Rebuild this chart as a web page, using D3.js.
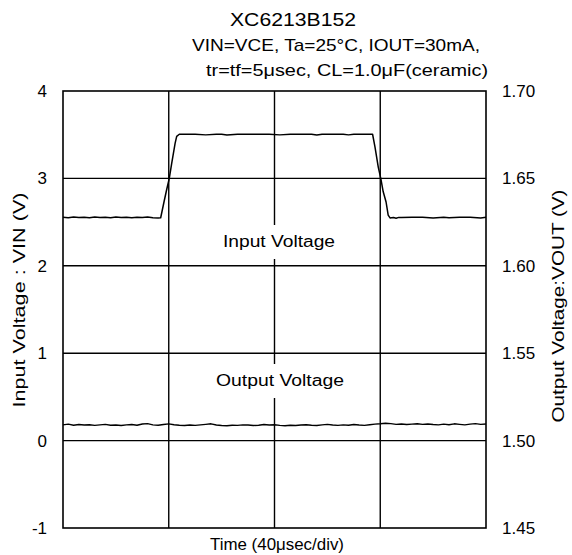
<!DOCTYPE html>
<html>
<head>
<meta charset="utf-8">
<script src="https://cdn.jsdelivr.net/npm/d3@7"></script>
<style>
  html, body { margin: 0; padding: 0; background: #fff; }
  svg text { font-family: "Liberation Sans", Arial, sans-serif; fill: #000; }
</style>
</head>
<body>
<svg id="chart" width="572" height="555"></svg>
<script>
// ---------- data ----------
const titleText = "XC6213B152";
const subtitle1 = "VIN=VCE, Ta=25\u00B0C, IOUT=30mA,";
const subtitle2 = "tr=tf=5\u03BCsec, CL=1.0\u03BCF(ceramic)";
const xTitle = "Time (40\u03BCsec/div)";
const leftTitle = "Input Voltage :  VIN (V)";
const rightTitle = "Output Voltage:VOUT (V)";
const inLabel = "Input Voltage";
const outLabel = "Output Voltage";

const timeTicks = [0, 40, 80, 120, 160];          // μsec, 40 μsec/div
const leftTicks = [4, 3, 2, 1, 0, -1];
const rightTicks = [1.70, 1.65, 1.60, 1.55, 1.50, 1.45];

// Input voltage trace (time μsec, VIN V)
const inTime = [0,2,4,6,8,10,12,14,16,18,20,22,24,26,28,30,32,34,36,36.95,
  38.2,39.2,40.2,41.1,42.4,43.0,44.0,46,50,54,58,60,62,66,70,74,78,82,86,
  90,94,96,98,102,106,108,110,114,117.1,118.0,119.25,120.2,121.1,122.2,123.0,
  123.7,125,126,127,128,132,136,140,144,146,150,154,158,160];
const inV = [2.555,2.550,2.558,2.552,2.556,2.550,2.557,2.553,2.556,2.551,2.558,2.552,2.555,2.550,2.556,2.553,2.557,2.550,2.548,2.550,
  2.73,2.87,3.00,3.17,3.40,3.48,3.505,3.505,3.505,3.498,3.505,3.505,3.497,3.505,3.505,3.505,3.505,3.498,3.505,
  3.505,3.505,3.497,3.505,3.505,3.505,3.498,3.505,3.505,3.505,3.36,3.13,3.00,2.85,2.73,2.58,
  2.548,2.552,2.545,2.554,2.552,2.555,2.555,2.548,2.555,2.549,2.555,2.555,2.548,2.555];

// Output voltage trace, sampled every 2 μsec (VOUT V)
const outTime = d3.range(0, 161, 2);
const outV = [1.5090,1.5094,1.5088,1.5092,1.5089,1.5091,1.5087,1.5090,1.5093,1.5088,
  1.5089,1.5086,1.5090,1.5092,1.5088,1.5095,1.5097,1.5090,1.5088,1.5092,
  1.5096,1.5091,1.5088,1.5086,1.5089,1.5087,1.5090,1.5093,1.5096,1.5089,
  1.5086,1.5085,1.5088,1.5087,1.5090,1.5089,1.5086,1.5088,1.5092,1.5089,
  1.5091,1.5087,1.5085,1.5088,1.5086,1.5089,1.5091,1.5088,1.5086,1.5090,
  1.5093,1.5089,1.5087,1.5090,1.5088,1.5092,1.5089,1.5087,1.5091,1.5094,
  1.5096,1.5099,1.5097,1.5093,1.5095,1.5092,1.5094,1.5096,1.5093,1.5095,
  1.5092,1.5090,1.5094,1.5091,1.5096,1.5093,1.5090,1.5094,1.5097,1.5093,1.5095];

// ---------- layout ----------
const svg = d3.select("#chart");
const L = 63, R = 486, T = 91, B = 528;

const x = d3.scaleLinear().domain([0, 160]).range([L, R]);
const yL = d3.scaleLinear().domain([-1, 4]).range([B, T]);
const yR = d3.scaleLinear().domain([1.45, 1.70]).range([B, T]);

// gridlines
const grid = svg.append("g").attr("stroke", "#000").attr("stroke-width", 1.4);
grid.selectAll("line.h").data(leftTicks.slice(1, -1)).join("line")
  .attr("x1", L).attr("x2", R).attr("y1", d => yL(d)).attr("y2", d => yL(d));
grid.selectAll("line.v").data(timeTicks.slice(1, -1)).join("line")
  .attr("y1", T).attr("y2", B).attr("x1", d => x(d)).attr("x2", d => x(d));

// frame
svg.append("rect").attr("x", L).attr("y", T).attr("width", R - L).attr("height", B - T)
  .attr("fill", "none").attr("stroke", "#000").attr("stroke-width", 1.6);

// axes (labels only)
const axL = svg.append("g").attr("transform", `translate(${L},0)`)
  .call(d3.axisLeft(yL).tickValues(leftTicks).tickSize(0).tickPadding(16).tickFormat(d => String(d)));
const axR = svg.append("g").attr("transform", `translate(${R},0)`)
  .call(d3.axisRight(yR).tickValues(rightTicks).tickSize(0).tickPadding(16).tickFormat(d3.format(".2f")));
[axL, axR].forEach(a => {
  a.select(".domain").remove();
  a.selectAll("text").attr("font-size", 17).attr("font-family", "Liberation Sans, Arial, sans-serif").attr("fill", "#000");
});

// in-plot labels with white background (gridline is interrupted behind them)
svg.append("rect").attr("x", 221).attr("y", 225).attr("width", 116).attr("height", 34).attr("fill", "#fff");
svg.append("rect").attr("x", 214).attr("y", 364).attr("width", 132).attr("height", 34).attr("fill", "#fff");

// traces
const lineIn = d3.line().x((d, i) => x(inTime[i])).y(d => yL(d));
svg.append("path").attr("d", lineIn(inV)).attr("fill", "none")
  .attr("stroke", "#000").attr("stroke-width", 1.5).attr("stroke-linejoin", "round");
const lineOut = d3.line().x((d, i) => x(outTime[i])).y(d => yR(d));
svg.append("path").attr("d", lineOut(outV)).attr("fill", "none")
  .attr("stroke", "#000").attr("stroke-width", 1.4).attr("stroke-linejoin", "round");

// texts
function txt(s, xx, yy, size, len, anchor) {
  return svg.append("text").attr("x", xx).attr("y", yy).attr("font-size", size)
    .attr("text-anchor", anchor || "start")
    .attr("textLength", len).attr("lengthAdjust", "spacingAndGlyphs").text(s);
}
txt(titleText, 230, 26, 19, 126);
txt(subtitle1, 192, 51, 17, 288);
txt(subtitle2, 206, 76, 17, 282);
txt(inLabel, 223, 247, 16, 112);
txt(outLabel, 216, 386, 16, 128);
txt(xTitle, 210, 550, 17, 134);

svg.append("text").attr("transform", "translate(25,300) rotate(-90)")
  .attr("text-anchor", "middle").attr("font-size", 17)
  .attr("textLength", 215).attr("lengthAdjust", "spacingAndGlyphs").text(leftTitle);
svg.append("text").attr("transform", "translate(564,306) rotate(-90)")
  .attr("text-anchor", "middle").attr("font-size", 17)
  .attr("textLength", 233).attr("lengthAdjust", "spacingAndGlyphs").text(rightTitle);
</script>
</body>
</html>
